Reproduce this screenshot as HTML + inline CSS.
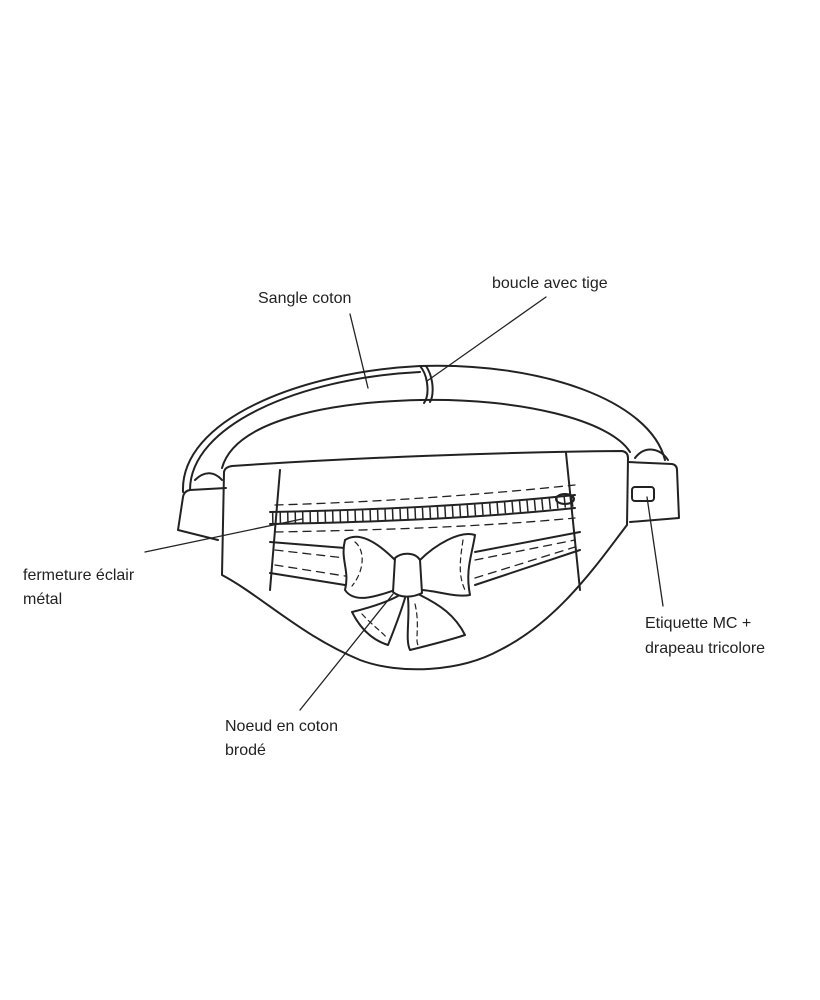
<!DOCTYPE html>
<html><head><style>
body{margin:0;background:#fff;}
svg{display:block;}
text{font-family:"Liberation Sans",sans-serif;font-size:16px;fill:#222;}
</style></head><body>
<svg width="820" height="1000" viewBox="0 0 820 1000">
<g fill="none" stroke="#222" stroke-width="2" stroke-linejoin="round" stroke-linecap="round">
<!-- strap -->
<path d="M183,492 C180,420 300,372 420,366 C540,362 650,400 665,460"/>
<path d="M190,490 C190,425 300,378 420,372"/>
<path d="M222,468 C235,420 330,402 420,400 C520,398 610,420 630,452"/>
<!-- buckle -->
<path d="M420,366 C428,375 430,395 424,403 M426,366 C434,378 434,395 430,402"/>
<!-- bag body -->
<path d="M232,466 C350,458 500,452 622,451 Q628,452 628,458 L627,525 C600,560 560,620 500,650 C460,672 400,675 360,660 C300,635 260,595 222,575 L224,472 Q225,467 232,466 Z"/>
<!-- tabs -->
<path d="M226,488 L190,490 Q184,491 183,497 L178,530 L218,540"/>
<path d="M195,480 C205,470 215,472 222,480"/>
<path d="M628,462 L672,464 Q677,465 677,470 L679,518 L630,522"/>
<path d="M635,458 C645,445 660,448 668,460"/>
<rect x="632" y="487" width="22" height="14" rx="3"/>
<!-- seams -->
<path d="M280,470 L270,590"/>
<path d="M566,453 L580,590"/>
<!-- zipper -->
<path d="M270,512 C380,510 480,505 575,495"/>
<path d="M270,524 C380,522 480,518 575,508"/>
<path d="M275,505 C380,502 480,495 575,485" stroke-dasharray="8,6" stroke-width="1.3"/>
<path d="M275,532 C380,530 480,527 575,518" stroke-dasharray="8,6" stroke-width="1.3"/>
<path d="M272,518 C380,516 480,512 575,501" stroke-dasharray="1.5,6" stroke-width="11" stroke-linecap="butt"/>
<ellipse cx="565" cy="499" rx="9" ry="5"/>
<!-- lower band -->
<path d="M270,542 L345,548 M475,552 L580,532"/>
<path d="M270,573 L345,585 M475,585 L580,550"/>
<path d="M275,550 L345,558 M475,560 L575,540" stroke-dasharray="8,6" stroke-width="1.3"/>
<path d="M275,565 L345,576 M475,578 L575,547" stroke-dasharray="8,6" stroke-width="1.3"/>
<!-- bow -->
<path d="M395,560 C380,545 360,530 345,540 C340,560 350,570 345,590 C355,605 380,595 395,590" fill="#fff"/>
<path d="M420,560 C435,545 460,530 475,535 C472,555 465,570 470,595 C455,598 435,590 420,590" fill="#fff"/>
<path d="M398,596 C385,603 368,608 352,612 C360,628 372,640 388,645 C394,630 400,615 405,598" fill="#fff"/>
<path d="M408,598 C410,620 405,640 410,650 C430,645 450,640 465,635 C455,615 440,605 420,595" fill="#fff"/>
<path d="M395,558 C402,552 415,552 420,560 L422,593 C412,598 400,598 393,592 Z" fill="#fff"/>
<path d="M355,542 C365,550 365,570 352,586 M463,540 C460,560 458,575 465,590 M362,614 C372,625 382,632 387,638 M415,604 C420,625 415,640 418,645" stroke-dasharray="5,4" stroke-width="1.2"/>
<!-- leader lines -->
<g stroke-width="1.3">
<path d="M350,314 L368,388"/>
<path d="M546,297 L427,381"/>
<path d="M145,552 L302,519"/>
<path d="M663,606 L647,497"/>
<path d="M300,710 L393,594"/>
</g>
</g>
<text x="258" y="303">Sangle coton</text>
<text x="492" y="288">boucle avec tige</text>
<text x="23" y="580">fermeture éclair</text>
<text x="23" y="604">métal</text>
<text x="645" y="628">Etiquette MC +</text>
<text x="645" y="653">drapeau tricolore</text>
<text x="225" y="731">Noeud en coton</text>
<text x="225" y="755">brodé</text>
</svg>
</body></html>
